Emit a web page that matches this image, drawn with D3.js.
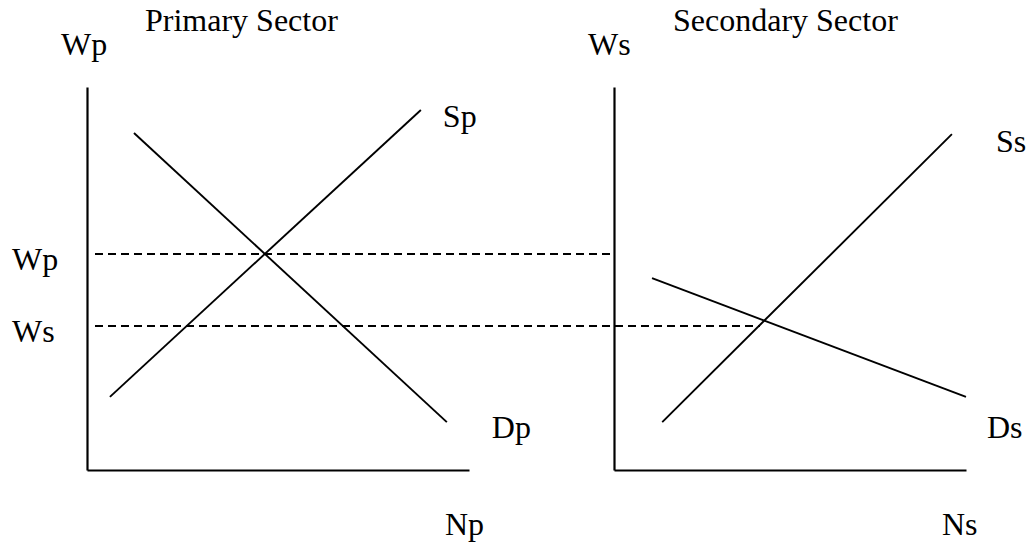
<!DOCTYPE html>
<html>
<head>
<meta charset="utf-8">
<script src="https://cdn.jsdelivr.net/npm/d3@7"></script>
<style>
  html, body { margin: 0; padding: 0; background: #fff; }
  svg text { font-family: "Liberation Serif", "Times New Roman", serif; font-size: 32px; fill: #000; }
</style>
</head>
<body>
<svg id="chart" width="1028" height="548"></svg>
<script>
// data (units 0-100 on each axis)
const panelTitles = ["Primary Sector", "Secondary Sector"];
const yAxisTitles = ["Wp", "Ws"];
const xAxisTitles = ["Np", "Ns"];

const supplyPrimary = [[6.0, 19.1], [87.4, 94.0]];
const demandPrimary = [[12.3, 88.0], [94.2, 12.5]];
const supplySecondary = [[13.7, 12.5], [96.0, 87.7]];
const demandSecondary = [[10.8, 50.1], [100, 19.1]];

const curveNames = ["Sp", "Dp", "Ss", "Ds"];
const wageNames = ["Wp", "Ws"];
const wageLevels = [56.4, 37.6];
// where each dashed wage line stops, in secondary-panel x units
const wageEnds = [0, 41.6];

const svg = d3.select("#chart");

const y = d3.scaleLinear().domain([0, 100]).range([470, 87]);
const xP = d3.scaleLinear().domain([0, 100]).range([87, 469]);
const xS = d3.scaleLinear().domain([0, 100]).range([614, 966]);

const line = (xs) => d3.line().x(d => xs(d[0])).y(d => y(d[1]));

// axes, domain line only
[xP, xS].forEach((xs, i) => {
    svg.append("g")
        .attr("transform", `translate(${xs.range()[0]},0)`)
        .call(d3.axisLeft(y).ticks(0).tickSizeOuter(0));
    svg.append("g")
        .attr("transform", `translate(0,${y.range()[0]})`)
        .call(d3.axisBottom(xs).ticks(0).tickSizeOuter(0));
});
svg.selectAll(".domain").attr("stroke", "#000").attr("stroke-width", 2.2);

// dashed wage lines across both panels
wageLevels.forEach((w, i) => {
    svg.append("line")
        .attr("x1", xP(2.2))
        .attr("x2", xS(wageEnds[i]))
        .attr("y1", Math.round(y(w)))
        .attr("y2", Math.round(y(w)))
        .attr("stroke", "#000")
        .attr("stroke-width", 2)
        .attr("shape-rendering", "crispEdges")
        .attr("stroke-dasharray", "8,5");
    svg.append("text")
        .attr("x", 12)
        .attr("y", y(w) + 16)
        .text(wageNames[i]);
});

// supply / demand curves
const curves = [
    { pts: supplyPrimary, xs: xP, dx: 22, dy: 17 },
    { pts: demandPrimary, xs: xP, dx: 45, dy: 16 },
    { pts: supplySecondary, xs: xS, dx: 44, dy: 18 },
    { pts: demandSecondary, xs: xS, dx: 21, dy: 41 },
];
curves.forEach((c, i) => {
    svg.append("path")
        .datum(c.pts)
        .attr("d", line(c.xs))
        .attr("fill", "none")
        .attr("stroke", "#000")
        .attr("stroke-width", 1.9);
    const end = c.pts[1];
    svg.append("text")
        .attr("x", c.xs(end[0]) + c.dx)
        .attr("y", y(end[1]) + c.dy)
        .text(curveNames[i]);
});

// titles and axis names
const titleX = [145, 673];
[xP, xS].forEach((xs, i) => {
    svg.append("text").attr("x", titleX[i]).attr("y", 31).text(panelTitles[i]);
    svg.append("text").attr("x", xs.range()[0] - 26).attr("y", 55).text(yAxisTitles[i]);
    svg.append("text").attr("x", xs.range()[1] - 24).attr("y", 535).text(xAxisTitles[i]);
});
</script>
</body>
</html>
